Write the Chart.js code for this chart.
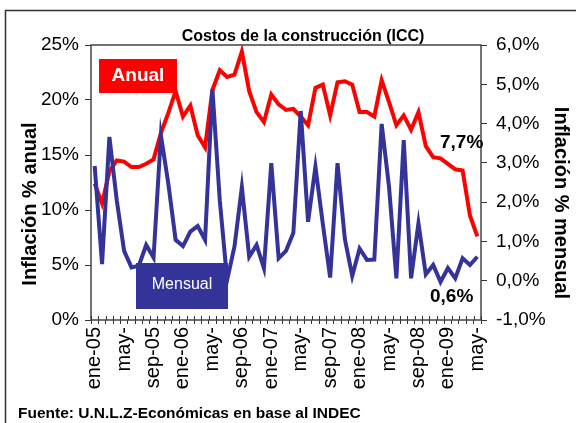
<!DOCTYPE html>
<html>
<head>
<meta charset="utf-8">
<script src="https://cdn.jsdelivr.net/npm/chart.js@4/dist/chart.umd.min.js"></script>
<style>
  body { margin: 0; background: #fff; }
  canvas { display: block; }
</style>
</head>
<body>
<canvas id="chartICC" width="576" height="423"></canvas>
<script>
const meses = ['ene','feb','mar','abr','may','jun','jul','ago','sep','oct','nov','dic'];
const categorias = [];
for (let a = 5; a <= 9; a++) {
  for (let m = 0; m < 12; m++) {
    if (a === 9 && m > 4) break;
    categorias.push(meses[m] + '-0' + a);
  }
}

// etiquetas visibles del eje x (una cada 4 meses)
const etiquetasX = ['ene-05','may-','sep-05','ene-06','may-','sep-06','ene-07','may-','sep-07','ene-08','may-','sep-08','ene-09','may-'];

// inflacion anual (%), eje izquierdo
const anual = [12.4, 10.6, 13.5, 14.5, 14.4, 13.9, 13.9, 14.2, 14.6, 17.0,
  18.8, 20.8, 18.5, 19.5, 16.8, 15.7, 20.9, 22.7, 22.1, 22.3,
  24.4, 20.8, 18.9, 18.0, 20.5, 19.6, 19.1, 19.2, 18.5, 17.7,
  21.1, 21.4, 18.6, 21.6, 21.7, 21.4, 18.9, 18.9, 18.5, 21.8,
  19.8, 17.7, 18.6, 17.3, 18.9, 15.8, 14.8, 14.7, 14.2, 13.7,
  13.6, 9.5, 7.6];

// inflacion mensual (%), eje derecho
const mensual = [2.92, 0.42, 3.66, 2.05, 0.76, 0.34, 0.38, 0.91, 0.59, 3.70,
  2.48, 1.04, 0.88, 1.25, 1.39, 1.04, 4.87, 2.05, 0.02, 0.87,
  2.38, 0.61, 0.91, 0.32, 2.99, 0.57, 0.76, 1.22, 4.32, 1.50,
  2.90, 1.45, 0.08, 2.99, 1.06, 0.12, 0.82, 0.53, 0.54, 3.99,
  2.39, 0.06, 3.58, 0.06, 1.46, 0.16, 0.40, -0.03, 0.32, 0.06,
  0.57, 0.40, 0.61];

const FONT = '"Liberation Sans", Arial, sans-serif';
const ROJO = '#ff0000';
const AZUL = '#333399';

const decoracion = {
  id: 'decoracion',
  beforeDraw(chart) {
    const ctx = chart.ctx;
    ctx.save();
    ctx.fillStyle = '#fff';
    ctx.fillRect(0, 0, chart.width, chart.height);
    ctx.strokeStyle = '#333';
    ctx.lineWidth = 1.5;
    ctx.beginPath();
    ctx.moveTo(5.5, chart.height);
    ctx.lineTo(5.5, 10.5);
    ctx.lineTo(chart.width, 10.5);
    ctx.stroke();
    ctx.restore();
  },
  afterDraw(chart) {
    const ctx = chart.ctx;
    const a = chart.chartArea;
    ctx.save();
    // borde del area de grafico
    ctx.strokeStyle = '#444';
    ctx.lineWidth = 1.5;
    ctx.strokeRect(a.left, a.top, a.right - a.left, a.bottom - a.top);
    // marcas del eje x que cruzan la linea
    const x = chart.scales.x;
    const n = categorias.length;
    ctx.strokeStyle = '#333';
    ctx.lineWidth = 1;
    ctx.beginPath();
    for (let i = 0; i <= n; i++) {
      const px = Math.round(x.left + i * (x.right - x.left) / n) + 0.5;
      ctx.moveTo(px, a.bottom - 4);
      ctx.lineTo(px, a.bottom);
    }
    ctx.stroke();

    // recuadros de leyenda
    ctx.fillStyle = ROJO;
    ctx.fillRect(99, 59, 78, 34);
    ctx.fillStyle = AZUL;
    ctx.fillRect(136, 263, 92, 46);
    ctx.fillStyle = '#fff';
    ctx.textAlign = 'center';
    ctx.textBaseline = 'middle';
    ctx.font = 'bold 19px ' + FONT;
    ctx.fillText('Anual', 138, 76);
    ctx.font = '16px ' + FONT;
    ctx.fillText('Mensual', 182, 285);

    // valores finales
    ctx.fillStyle = '#000';
    ctx.font = 'bold 19px ' + FONT;
    ctx.textAlign = 'left';
    ctx.fillText('7,7%', 440, 143);
    ctx.fillText('0,6%', 430, 297);

    // titulo y fuente
    ctx.font = 'bold 16px ' + FONT;
    ctx.textAlign = 'center';
    ctx.fillText('Costos de la construcción (ICC)', 303, 37);
    ctx.textAlign = 'left';
    ctx.font = 'bold 15.5px ' + FONT;
    ctx.fillText('Fuente: U.N.L.Z-Económicas en base al INDEC', 18, 414);

    // titulos de ejes
    ctx.font = 'bold 20px ' + FONT;
    ctx.textAlign = 'center';
    ctx.save();
    ctx.translate(30, 204);
    ctx.rotate(-Math.PI / 2);
    ctx.fillText('Inflación % anual', 0, 0);
    ctx.restore();
    ctx.save();
    ctx.translate(561, 203);
    ctx.rotate(Math.PI / 2);
    ctx.fillText('Inflación % mensual', 0, 0);
    ctx.restore();
    ctx.restore();
  }
};

new Chart(document.getElementById('chartICC'), {
  type: 'line',
  data: {
    labels: categorias,
    datasets: [{
      label: 'Anual',
      data: anual,
      yAxisID: 'y',
      borderColor: ROJO,
      borderWidth: 4,
      pointRadius: 0,
      tension: 0,
      order: 2
    }, {
      label: 'Mensual',
      data: mensual,
      yAxisID: 'y2',
      borderColor: AZUL,
      borderWidth: 4,
      pointRadius: 0,
      tension: 0,
      order: 1
    }]
  },
  options: {
    responsive: false,
    animation: false,
    layout: { padding: { top: 45, left: 0, right: 0, bottom: 0 } },
    plugins: {
      legend: { display: false },
      tooltip: { enabled: false }
    },
    scales: {
      x: {
        offset: true,
        afterFit(s) { s.height = 103; },
        grid: { offset: true, drawOnChartArea: false, tickLength: 4, color: '#333' },
        border: { display: false },
        ticks: {
          autoSkip: false,
          minRotation: 90,
          maxRotation: 90,
          padding: 3,
          color: '#000',
          font: { family: FONT, size: 20 },
          callback: (v, i) => (i % 4 === 0 ? etiquetasX[i / 4] : '')
        }
      },
      y: {
        position: 'left',
        min: 0,
        max: 25,
        afterFit(s) { s.width = 91; },
        grid: { drawOnChartArea: false, tickLength: 6, color: '#333' },
        border: { display: false },
        ticks: {
          stepSize: 5,
          padding: 6,
          color: '#000',
          font: { family: FONT, size: 19 },
          callback: v => v + '%'
        }
      },
      y2: {
        position: 'right',
        min: -1,
        max: 6,
        afterFit(s) { s.width = 95; },
        grid: { drawOnChartArea: false, tickLength: 6, color: '#333' },
        border: { display: false },
        ticks: {
          stepSize: 1,
          padding: 9,
          color: '#000',
          font: { family: FONT, size: 19 },
          callback: v => v.toFixed(1).replace('.', ',') + '%'
        }
      }
    }
  },
  plugins: [decoracion]
});
</script>
</body>
</html>
